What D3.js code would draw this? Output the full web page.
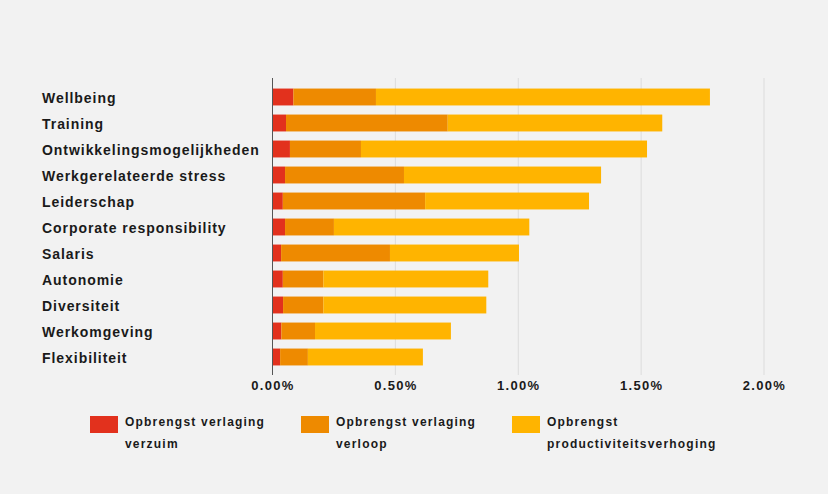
<!DOCTYPE html>
<html>
<head>
<meta charset="utf-8">
<script src="https://cdn.jsdelivr.net/npm/d3@7"></script>
<style>
  html, body { margin: 0; padding: 0; background: #f2f2f2; }
  svg { display: block; font-family: "Liberation Sans", Arial, Helvetica, sans-serif; }
</style>
</head>
<body>
<svg id="chart" width="828" height="494"></svg>
<script>
const categories = ["Wellbeing", "Training", "Ontwikkelingsmogelijkheden", "Werkgerelateerde stress",
  "Leiderschap", "Corporate responsibility", "Salaris", "Autonomie", "Diversiteit", "Werkomgeving", "Flexibiliteit"];
const seriesNames = ["Opbrengst verlaging verzuim", "Opbrengst verlaging verloop", "Opbrengst productiviteitsverhoging"];
const verzuim = [0.00085, 0.00055, 0.00071, 0.00051, 0.00042, 0.00051, 0.00035, 0.00042, 0.00043, 0.00036, 0.00031];
const verloop = [0.00336, 0.00658, 0.00289, 0.00484, 0.00579, 0.00199, 0.00443, 0.00165, 0.00164, 0.00137, 0.00113];
const productiviteit = [0.01359, 0.00873, 0.01164, 0.00802, 0.00667, 0.00795, 0.00525, 0.00671, 0.00663, 0.00553, 0.00468];
const tickValues = [0, 0.005, 0.01, 0.015, 0.02];
const colors = ["#e2311d", "#ee8a00", "#ffb400"];

const svg = d3.select("#chart");
const x = d3.scaleLinear().domain([0, 0.02]).range([272.5, 764]);
const y = d3.scaleBand().domain(categories).range([84, 370]).paddingInner(0.35).paddingOuter(0.175);

const rows = categories.map((c, i) => ({ cat: c, s0: verzuim[i], s1: verloop[i], s2: productiviteit[i] }));
const stacked = d3.stack().keys(["s0", "s1", "s2"])(rows);

// gridlines
svg.append("g").selectAll("line").data(tickValues.slice(1)).join("line")
  .attr("x1", d => x(d)).attr("x2", d => x(d))
  .attr("y1", 78).attr("y2", 375)
  .attr("stroke", "#dcdcdc").attr("stroke-width", 1);

// bars
svg.append("g").selectAll("g").data(stacked).join("g")
  .attr("fill", (d, i) => colors[i])
  .selectAll("rect").data(d => d).join("rect")
  .attr("x", d => x(d[0]))
  .attr("width", d => x(d[1]) - x(d[0]))
  .attr("y", d => y(d.data.cat))
  .attr("height", y.bandwidth());

// zero axis line
svg.append("line").attr("x1", x(0)).attr("x2", x(0)).attr("y1", 78).attr("y2", 375)
  .attr("stroke", "#555").attr("stroke-width", 1);

// category labels
svg.append("g").selectAll("text").data(categories).join("text")
  .attr("x", 42).attr("y", d => y(d) + y.bandwidth() / 2 + 1)
  .attr("dy", "0.35em")
  .attr("font-size", 14).attr("font-weight", "bold").attr("letter-spacing", "0.95px")
  .attr("fill", "#1a1a1a")
  .text(d => d);

// x axis tick labels
const xAxis = d3.axisBottom(x).tickValues(tickValues).tickFormat(d3.format(".2%")).tickSize(0).tickPadding(0);
const ax = svg.append("g").attr("transform", "translate(0,381)").call(xAxis);
ax.select(".domain").remove();
ax.selectAll("text").attr("font-size", 13).attr("font-weight", "bold").attr("letter-spacing", "1.3px")
  .attr("fill", "#1a1a1a").attr("font-family", "Liberation Sans, Arial, sans-serif");

// legend
const legendX = [90, 301, 512];
const lg = svg.append("g").selectAll("g").data(seriesNames).join("g")
  .attr("transform", (d, i) => `translate(${legendX[i]},416)`);
lg.append("rect").attr("width", 28).attr("height", 17).attr("fill", (d, i) => colors[i]);
lg.each(function(d) {
  const g = d3.select(this);
  const t = g.append("text").attr("x", 35).attr("y", 10)
    .attr("font-size", 12).attr("font-weight", "bold").attr("letter-spacing", "1.2px").attr("fill", "#1a1a1a");
  const words = d.split(" ");
  let line = [];
  let lineNo = 0;
  let tspan = t.append("tspan").attr("x", 35).attr("y", 10);
  words.forEach(w => {
    line.push(w);
    tspan.text(line.join(" "));
    if (tspan.node().getComputedTextLength() > 150 && line.length > 1) {
      line.pop();
      tspan.text(line.join(" "));
      line = [w];
      lineNo++;
      tspan = t.append("tspan").attr("x", 35).attr("y", 10 + lineNo * 22).text(w);
    }
  });
});
</script>
</body>
</html>
